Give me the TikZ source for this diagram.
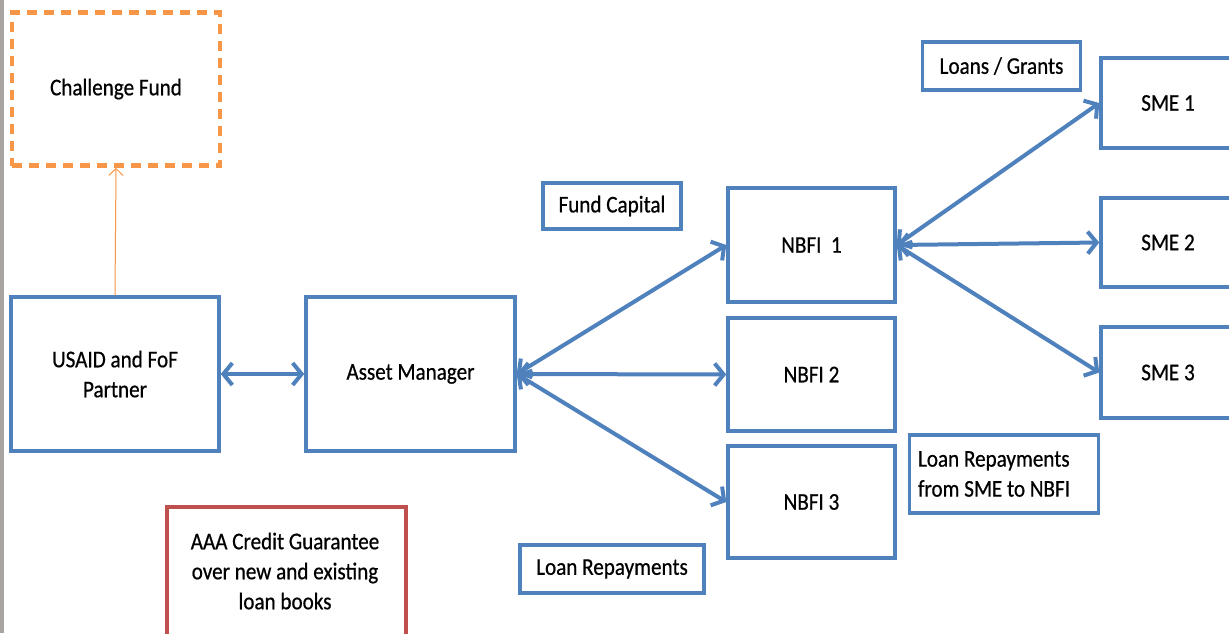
\documentclass[tikz,border=0pt]{standalone}
\usepackage{fontspec}
\setmainfont{Carlito}[FakeStretch=0.88,FakeBold=0.6]
\usetikzlibrary{arrows.meta}
\definecolor{bblue}{HTML}{4F81BD}
\definecolor{borange}{HTML}{F79646}
\definecolor{bred}{HTML}{C0504D}
\definecolor{stripgray}{HTML}{A8A4A0}
\tikzset{
  box/.style={draw=bblue, line width=3.5pt, fill=white, inner sep=0pt, align=center,
    font=\fontsize{24}{30}\selectfont, text=black},
  barr/.style={draw=bblue, line width=4pt, {Straight Barb[length=9pt,width=22pt]}-{Straight Barb[length=9pt,width=22pt]}},
  oarr/.style={draw=borange, line width=1pt, -{Straight Barb[length=7pt,width=14pt]}},
}
\begin{document}
\begin{tikzpicture}[x=1pt,y=-1pt]
\clip (0,0) rectangle (1229,633);
\fill[white] (0,0) rectangle (1229,633);
\fill[stripgray] (0,0) rectangle (4,633);

% main boxes
\node[box, draw=borange, line width=4.5pt, dash pattern=on 10pt off 7pt, minimum width=208pt, minimum height=153pt] (cf) at (116,89) {Challenge Fund};
\node[box, minimum width=208pt, minimum height=154pt] (usaid) at (115,374) {USAID and FoF\\Partner};
\node[box, minimum width=209pt, minimum height=154pt] (am) at (410.5,374) {Asset Manager};
\node[box, minimum width=138pt, minimum height=46pt] (fc) at (612,206) {Fund Capital};
\node[box, minimum width=167pt, minimum height=114pt] (n1) at (811.5,245) {NBFI\ \ 1};
\node[box, minimum width=167pt, minimum height=113pt] (n2) at (811.5,374.5) {NBFI 2};
\node[box, minimum width=167pt, minimum height=112pt] (n3) at (811.5,502) {NBFI 3};
\node[box, minimum width=158pt, minimum height=48pt] (lg) at (1001.5,66) {Loans / Grants};
\node[box, minimum width=140pt, minimum height=90pt] (s1) at (1171,103) {\hspace*{-6pt}SME 1};
\node[box, minimum width=140pt, minimum height=89pt] (s2) at (1171,242.5) {\hspace*{-6pt}SME 2};
\node[box, minimum width=140pt, minimum height=91pt] (s3) at (1171,372.5) {\hspace*{-6pt}SME 3};
\node[box, minimum width=189pt, minimum height=78pt, align=flush left, text width=172pt] (lrs) at (1004,474) {Loan Repayments\\from SME to NBFI};
\node[box, minimum width=184pt, minimum height=48pt] (lr) at (612,569) {Loan Repayments};
\node[box, draw=bred, minimum width=239pt, minimum height=140pt] (aaa) at (286.5,577) {};
\node[font=\fontsize{24}{30}\selectfont, align=center, text=black] (aaat) at (285,571) {AAA Credit Guarantee\\over new and existing\\loan books};

% connectors
\draw[oarr] (usaid.north) -- (cf.south);
\draw[barr] (usaid.east) -- (am.west);
\draw[barr] (am.east) -- (n1.west);
\draw[barr] (am.east) -- (n2.west);
\draw[barr] (am.east) -- (n3.west);
\draw[barr] (n1.east) -- (s1.west);
\draw[barr] (n1.east) -- (s2.west);
\draw[barr] (n1.east) -- (s3.west);
\end{tikzpicture}
\end{document}
